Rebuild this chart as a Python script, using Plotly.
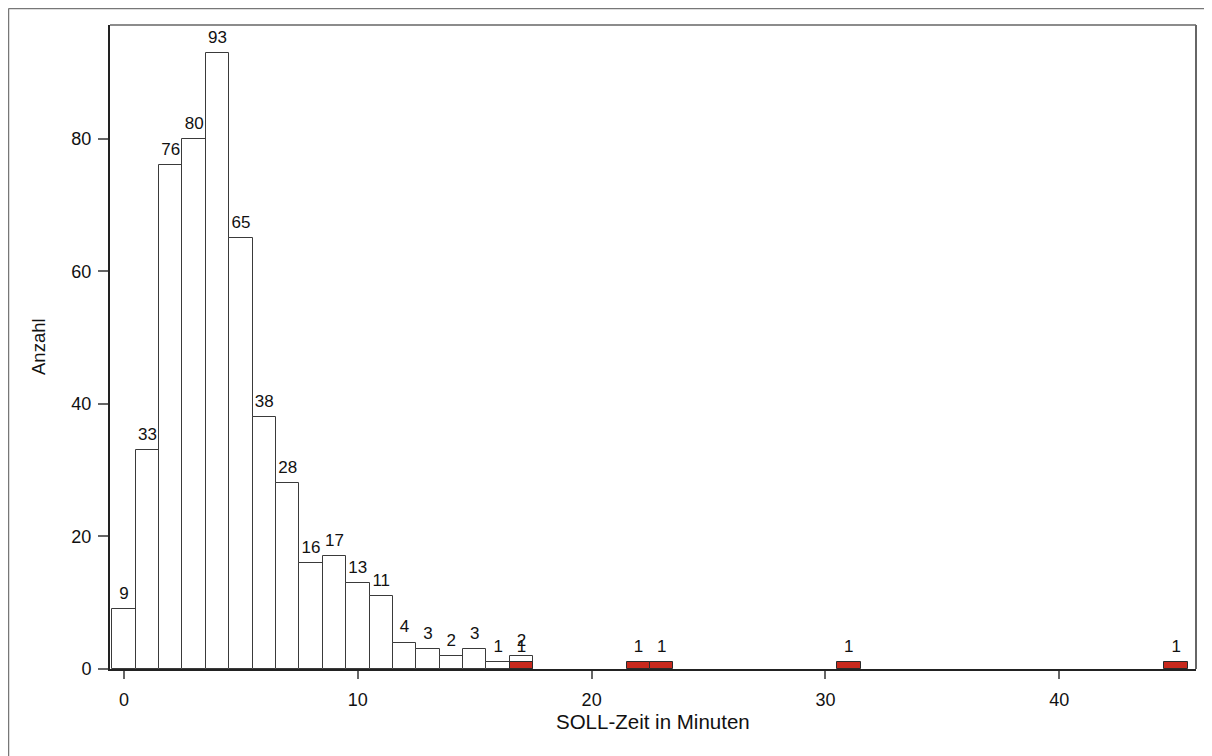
import plotly.graph_objects as go

# Data
white_x = list(range(18))
white_counts = [9, 33, 76, 80, 93, 65, 38, 28, 16, 17, 13, 11, 4, 3, 2, 3, 1, 2]
red_x = [17, 22, 23, 31, 45]
red_counts = [1, 1, 1, 1, 1]
x_ticks = [0, 10, 20, 30, 40]
y_ticks = [0, 20, 40, 60, 80]
x_title = "SOLL-Zeit in Minuten"
y_title = "Anzahl"

FONT = "Liberation Sans, Arial, sans-serif"
W, H = 1212, 756
OFF = 8  # page body margin
# plot area in page pixels: x 110..1196, y 25..669
ML, MT = 110 - OFF, 25 - OFF
MR = W - (1196 - OFF)
MB = H - (669 - OFF)
pw = W - ML - MR
ph = H - MT - MB


def px_x(p):  # page pixel -> paper x
    return (p - OFF - ML) / pw


def px_y(p):  # page pixel -> paper y
    return (H - MB - (p - OFF)) / ph


fig = go.Figure()
fig.add_trace(go.Bar(
    x=white_x, y=white_counts, width=1,
    marker=dict(color="white", line=dict(color="#3a3a3a", width=1)),
    showlegend=False, hoverinfo="x+y"))
fig.add_trace(go.Bar(
    x=red_x, y=red_counts, width=1,
    marker=dict(color="#c8291d", line=dict(color="#2a2a2a", width=1)),
    showlegend=False, hoverinfo="x+y"))
for xs, ys in [(white_x, white_counts), (red_x, red_counts)]:
    fig.add_trace(go.Scatter(
        x=xs, y=ys, mode="markers+text",
        marker=dict(size=8, opacity=0),
        text=[str(v) for v in ys], textposition="top center",
        textfont=dict(family=FONT, size=17, color="#111"),
        showlegend=False, hoverinfo="skip", cliponaxis=False))

fig.update_layout(
    width=W, height=H,
    margin=dict(l=ML, r=MR, t=MT, b=MB, pad=0),
    paper_bgcolor="white", plot_bgcolor="white",
    barmode="overlay", bargap=0,
    font=dict(family=FONT, size=17, color="#111"),
    xaxis=dict(range=[-0.6, 45.85], tickvals=x_ticks, showgrid=False, zeroline=False,
               showline=True, linecolor="#222", linewidth=2,
               ticks="outside", ticklen=8, tickwidth=1.5, tickcolor="#666",
               ticklabelstandoff=5, tickfont=dict(size=18)),
    yaxis=dict(range=[0, 97.2], tickvals=y_ticks, showgrid=False, zeroline=False,
               showline=True, linecolor="#222", linewidth=2,
               ticks="outside", ticklen=10, tickwidth=1.5, tickcolor="#666",
               ticklabelstandoff=3, tickfont=dict(size=18)),
    shapes=[
        # plot region border top/right
        dict(type="line", xref="paper", yref="paper", x0=0, x1=1, y0=1, y1=1,
             line=dict(color="#666", width=1.5)),
        dict(type="line", xref="paper", yref="paper", x0=1, x1=1, y0=0, y1=1,
             line=dict(color="#666", width=2)),
        # outer frame top/left
        dict(type="line", xref="paper", yref="paper",
             x0=px_x(8.5), x1=px_x(1400), y0=px_y(8.5), y1=px_y(8.5),
             line=dict(color="#777", width=1.5)),
        dict(type="line", xref="paper", yref="paper",
             x0=px_x(8.5), x1=px_x(8.5), y0=px_y(8.5), y1=px_y(900),
             line=dict(color="#777", width=1.5)),
    ],
    annotations=[
        dict(text=x_title, xref="paper", yref="paper", x=0.5, y=px_y(721),
             xanchor="center", yanchor="middle", showarrow=False,
             font=dict(size=20.5)),
        dict(text=y_title, xref="paper", yref="paper", x=px_x(38), y=0.5,
             xanchor="center", yanchor="middle", showarrow=False, textangle=-90,
             font=dict(size=18.5)),
    ],
)

fig.write_html("out.html")
